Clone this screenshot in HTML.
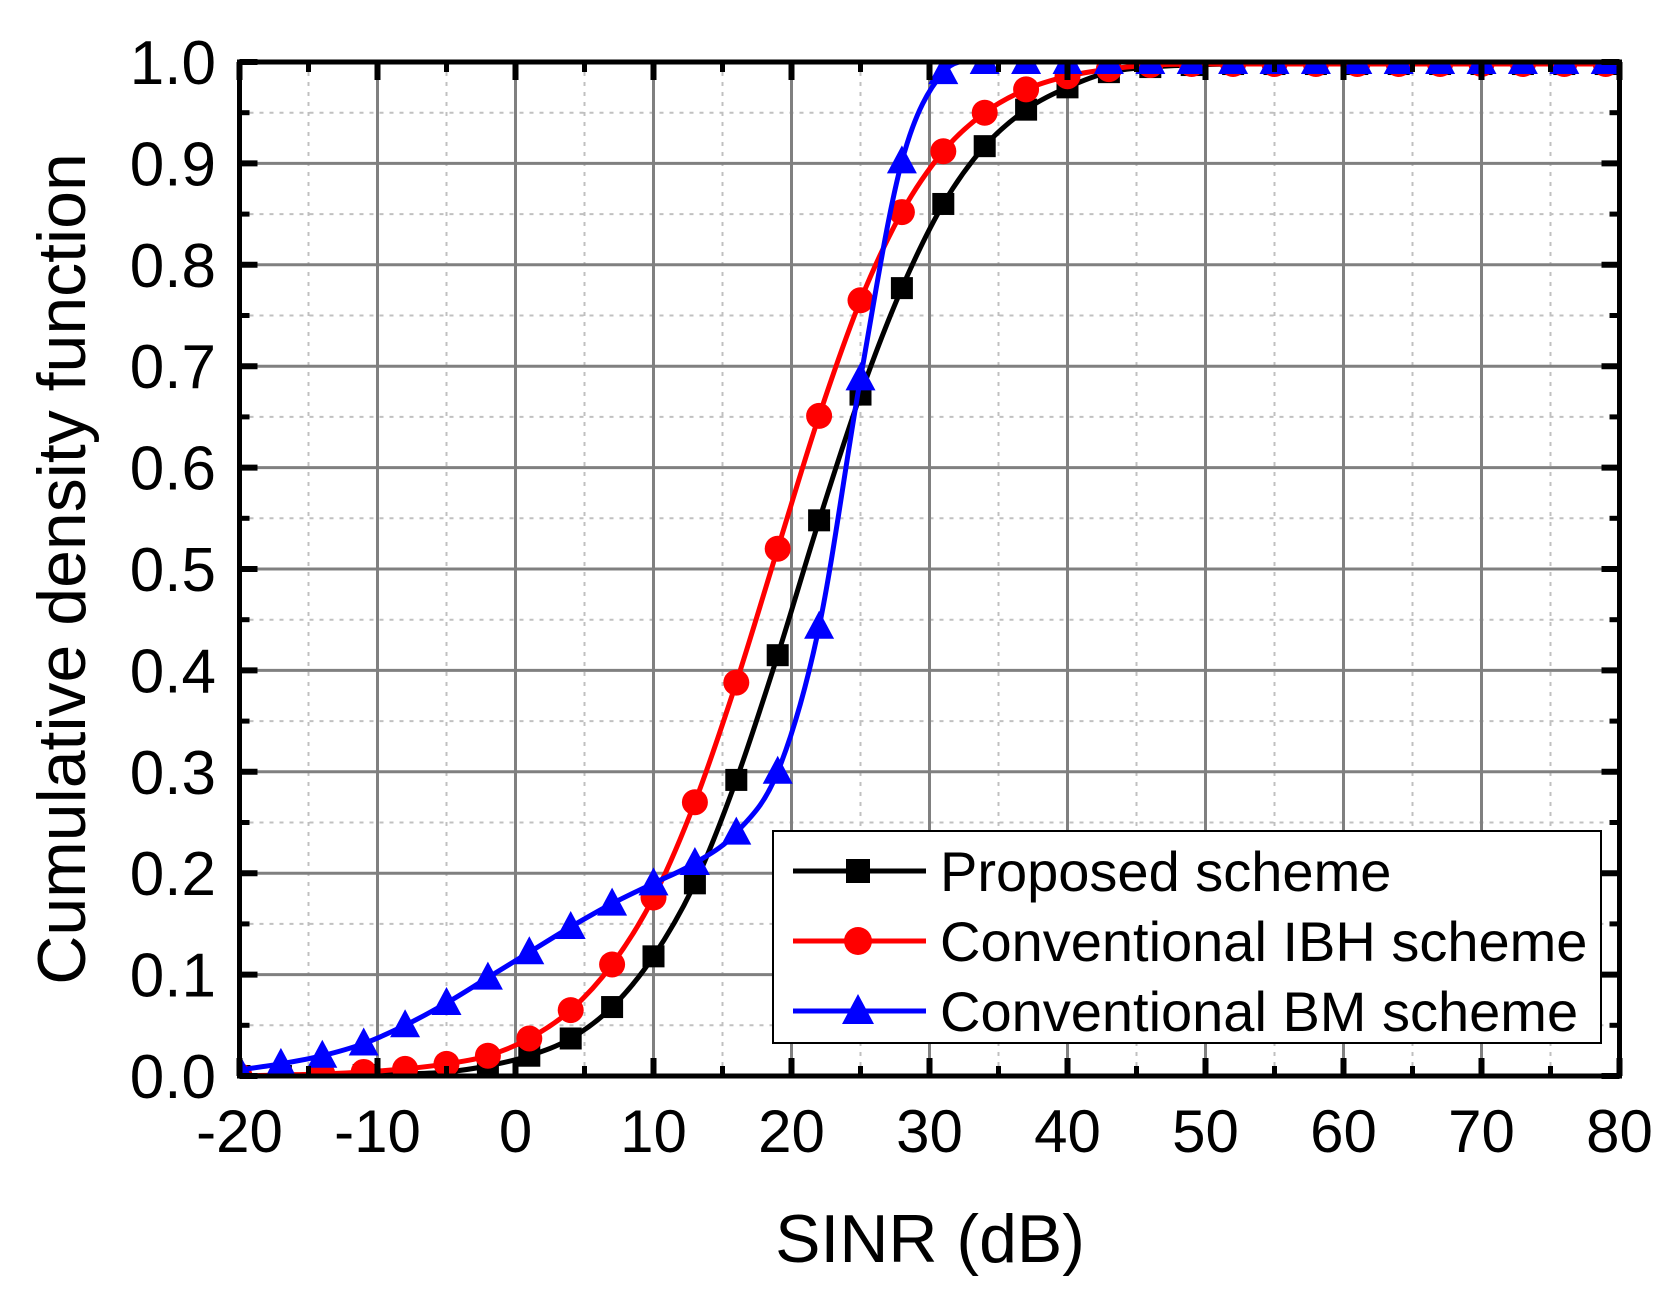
<!DOCTYPE html>
<html><head><meta charset="utf-8"><style>
html,body{margin:0;padding:0;background:#fff;}
svg{display:block;font-family:"Liberation Sans",Arial,sans-serif;}
</style></head><body>
<svg id="chart" width="1680" height="1301" viewBox="0 0 1680 1301" xmlns="http://www.w3.org/2000/svg">
<defs><clipPath id="plotclip"><rect x="239.5" y="62" width="1380" height="1014"/></clipPath></defs>
<g id="grid"></g>
<g id="series" clip-path="url(#plotclip)"></g>
<rect x="239.5" y="62" width="1380" height="1014" fill="none" stroke="#000" stroke-width="5"/>
<g id="ticks"></g>
<text x="930" y="1262" font-size="68" text-anchor="middle">SINR (dB)</text>
<text transform="translate(85,569) rotate(-90)" font-size="68" text-anchor="middle">Cumulative density function</text>
<g>
<rect x="773" y="831" width="828" height="212" fill="#fff" stroke="#000" stroke-width="2"/>
<g>
<line x1="793" y1="871" x2="926" y2="871" stroke="#000" stroke-width="5"/>
<rect x="846" y="859" width="24" height="24" fill="#000"/>
<text x="940" y="891" font-size="56">Proposed scheme</text></g>
<g>
<line x1="793" y1="941" x2="926" y2="941" stroke="#f00" stroke-width="5"/>
<circle cx="858" cy="941" r="14" fill="#f00"/>
<text x="940" y="961" font-size="56">Conventional IBH scheme</text></g>
<g>
<line x1="793" y1="1011" x2="926" y2="1011" stroke="#00f" stroke-width="5"/>
<polygon points="858,994 874,1024 842,1024" fill="#00f"/>
<text x="940" y="1031" font-size="56">Conventional BM scheme</text></g>
</g>
</svg>
<script>
const xValues=[-20,-17,-14,-11,-8,-5,-2,1,4,7,10,13,16,19,22,25,28,31,34,37,40,43,46,49,52,55,58,61,64,67,70,73,76,79];
const proposed=[0,0,0,0.001,0.002,0.004,0.01,0.02,0.037,0.068,0.118,0.19,0.292,0.415,0.548,0.672,0.777,0.86,0.917,0.953,0.975,0.99,0.995,0.997,0.998,0.998,0.998,0.998,0.998,0.998,0.998,0.998,0.998,0.998];
const ibh=[0,0.001,0.002,0.004,0.007,0.012,0.02,0.037,0.065,0.11,0.176,0.27,0.388,0.52,0.651,0.765,0.852,0.912,0.95,0.973,0.986,0.993,0.997,0.998,0.998,0.998,0.998,0.998,0.998,0.998,0.998,0.998,0.998,0.998];
const bm=[0.006,0.012,0.02,0.032,0.05,0.072,0.097,0.122,0.147,0.17,0.19,0.21,0.24,0.3,0.443,0.688,0.902,0.99,1.0,1.0,1.0,1.0,1.0,1.0,1.0,1.0,1.0,1.0,1.0,1.0,1.0,1.0,1.0,1.0];
const xTicks=[-20,-10,0,10,20,30,40,50,60,70,80];
const yTicks=[0,0.1,0.2,0.3,0.4,0.5,0.6,0.7,0.8,0.9,1.0];

const X0=239.5,X1=1619.5,Y0=1076,Y1=62;
const sx=v=>X0+(v+20)/100*(X1-X0);
const sy=v=>Y0-v*(Y0-Y1);
const NS='http://www.w3.org/2000/svg';
function mk(tag,attrs,parent){const e=document.createElementNS(NS,tag);for(const k in attrs)e.setAttribute(k,attrs[k]);parent.appendChild(e);return e;}
const grid=document.getElementById('grid'),ticks=document.getElementById('ticks'),ser=document.getElementById('series');
for(let v=-15;v<80;v+=10){const l=mk('line',{x1:sx(v),x2:sx(v),y1:Y1,y2:Y0,stroke:'#c0c0c0','stroke-width':2,'stroke-dasharray':'4,6'},grid);

}
for(let i=0;i<10;i++){const v=0.05+i*0.1;const l=mk('line',{x1:X0,x2:X1,y1:sy(v),y2:sy(v),stroke:'#c0c0c0','stroke-width':2,'stroke-dasharray':'4,6'},grid);

}
xTicks.forEach(v=>{const l=mk('line',{x1:sx(v),x2:sx(v),y1:Y1,y2:Y0,stroke:'#808080','stroke-width':3},grid);


mk('line',{x1:sx(v),x2:sx(v),y1:Y0,y2:Y0-18,stroke:'#000','stroke-width':6},ticks);
mk('line',{x1:sx(v),x2:sx(v),y1:Y1,y2:Y1+18,stroke:'#000','stroke-width':6},ticks);
const t=mk('text',{x:sx(v),y:1152,'font-size':60,'text-anchor':'middle'},ticks);t.textContent=String(v);

});
for(let v=-15;v<80;v+=10){mk('line',{x1:sx(v),x2:sx(v),y1:Y0,y2:Y0-10,stroke:'#000','stroke-width':5},ticks);mk('line',{x1:sx(v),x2:sx(v),y1:Y1,y2:Y1+10,stroke:'#000','stroke-width':5},ticks);}
yTicks.forEach(v=>{const l=mk('line',{x1:X0,x2:X1,y1:sy(v),y2:sy(v),stroke:'#808080','stroke-width':3},grid);


mk('line',{x1:X0,x2:X0+18,y1:sy(v),y2:sy(v),stroke:'#000','stroke-width':6},ticks);
mk('line',{x1:X1,x2:X1-18,y1:sy(v),y2:sy(v),stroke:'#000','stroke-width':6},ticks);
const t=mk('text',{x:216,y:sy(v)+22,'font-size':62,'text-anchor':'end'},ticks);t.textContent=v.toFixed(1);

});
for(let i=0;i<10;i++){const v=0.05+i*0.1;mk('line',{x1:X0,x2:X0+10,y1:sy(v),y2:sy(v),stroke:'#000','stroke-width':5},ticks);mk('line',{x1:X1,x2:X1-10,y1:sy(v),y2:sy(v),stroke:'#000','stroke-width':5},ticks);}
function pathFor(vals){const p=xValues.map((x,i)=>[sx(x),sy(vals[i])]);let d='M'+p[0][0]+','+p[0][1];
for(let i=0;i<p.length-1;i++){const a=p[Math.max(0,i-1)],b=p[i],c=p[i+1],e=p[Math.min(p.length-1,i+2)];
d+=' C'+(b[0]+(c[0]-a[0])/6)+','+(b[1]+(c[1]-a[1])/6)+' '+(c[0]-(e[0]-b[0])/6)+','+(c[1]-(e[1]-b[1])/6)+' '+c[0]+','+c[1];}return d;}
const defs=[[proposed,'#000','square','proposed'],[ibh,'#f00','circle','ibh'],[bm,'#00f','triangle','bm']];
defs.forEach(([vals,col,shape,nm])=>{const g=mk('g',{},ser);


const p=mk('path',{d:pathFor(vals),fill:'none',stroke:col,'stroke-width':5},g);


xValues.forEach((x,i)=>{const cx=sx(x),cy=sy(vals[i]);let m;
if(shape==='square')m=mk('rect',{x:cx-11,y:cy-11,width:22,height:22,fill:col},g);
else if(shape==='circle')m=mk('circle',{cx:cx,cy:cy,r:13,fill:col},g);
else m=mk('polygon',{points:`${cx},${cy-16} ${cx+15},${cy+12} ${cx-15},${cy+12}`,fill:col},g);

});});
</script>
</body></html>
